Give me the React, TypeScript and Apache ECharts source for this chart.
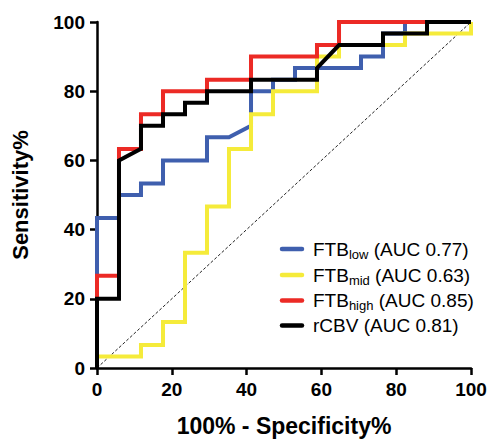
import React, { useEffect, useRef } from "react";
import * as echarts from "echarts";

// ---- data ----
const tickValues = [0, 20, 40, 60, 80, 100];
const seriesNames = ["FTB low", "FTB mid", "FTB high", "rCBV"];
const legendMain = ["FTB", "FTB", "FTB", "rCBV"];
const legendSub = ["low", "mid", "high", ""];
const aucLabels = ["(AUC 0.77)", "(AUC 0.63)", "(AUC 0.85)", "(AUC 0.81)"];
const colors = ["#3f5fae", "#f5eb3a", "#ec2a25", "#000000"];

const ftbLowX = [0, 0, 5.88, 5.88, 11.76, 11.76, 17.65, 17.65, 29.41, 29.41, 35.29, 41.18, 41.18, 47.06, 47.06, 52.94, 52.94, 70.59, 70.59, 76.47, 76.47, 82.35, 82.35, 100];
const ftbLowY = [0, 43.33, 43.33, 50, 50, 53.33, 53.33, 60, 60, 66.67, 66.67, 70, 80, 80, 83.33, 83.33, 86.67, 86.67, 90, 90, 96.67, 96.67, 100, 100];

const ftbMidX = [0, 0, 11.76, 11.76, 17.65, 17.65, 23.53, 23.53, 29.41, 29.41, 35.29, 35.29, 41.18, 41.18, 47.06, 47.06, 58.82, 58.82, 64.71, 64.71, 82.35, 82.35, 100, 100];
const ftbMidY = [0, 3.33, 3.33, 6.67, 6.67, 13.33, 13.33, 33.33, 33.33, 46.67, 46.67, 63.33, 63.33, 73.33, 73.33, 80, 80, 90, 90, 93.33, 93.33, 96.67, 96.67, 100];

const ftbHighX = [0, 0, 5.88, 5.88, 11.76, 11.76, 17.65, 17.65, 29.41, 29.41, 41.18, 41.18, 58.82, 58.82, 64.71, 64.71, 100];
const ftbHighY = [0, 26.67, 26.67, 63.33, 63.33, 73.33, 73.33, 80, 80, 83.33, 83.33, 90, 90, 93.33, 93.33, 100, 100];

const rcbvX = [0, 0, 5.88, 5.88, 11.76, 11.76, 17.65, 17.65, 23.53, 23.53, 29.41, 29.41, 41.18, 41.18, 58.82, 58.82, 64.71, 76.47, 76.47, 88.24, 88.24, 100];
const rcbvY = [0, 20, 20, 60, 63.33, 70, 70, 73.33, 73.33, 76.67, 76.67, 80, 80, 83.33, 83.33, 86.67, 93.33, 93.33, 96.67, 96.67, 100, 100];

const chanceX = [0, 100];
const chanceY = [0, 100];

const FONT = '"Liberation Sans", Arial, Helvetica, sans-serif';

function zip(xs: number[], ys: number[]) {
  return xs.map((x, i) => [x, ys[i]]);
}

function measure(text: string, size: number, weight = "normal") {
  const c = document.createElement("canvas").getContext("2d");
  if (!c) return text.length * size * 0.55;
  c.font = `${weight} ${size}px "Liberation Sans", Arial, sans-serif`;
  return c.measureText(text).width;
}

export default function App() {
  const ref = useRef<HTMLDivElement>(null);

  useEffect(() => {
    if (!ref.current) return;
    const chart = echarts.init(ref.current, undefined, { renderer: "svg" });

    const curves = [
      zip(ftbLowX, ftbLowY),
      zip(ftbMidX, ftbMidY),
      zip(ftbHighX, ftbHighY),
      zip(rcbvX, rcbvY),
    ];

    // legend drawn as graphic elements (subscript text)
    const rowY = [249, 275, 300.5, 325.5];
    const mainSize = 19;
    const subSize = 13;
    const textX = 313;
    const legendEls: any[] = [];
    seriesNames.forEach((_, i) => {
      const cy = rowY[i];
      legendEls.push({
        type: "line",
        shape: { x1: 282, y1: cy, x2: 302, y2: cy },
        style: { stroke: colors[i], lineWidth: 4.5, lineCap: "round" },
      });
      let x = textX;
      legendEls.push({
        type: "text",
        x,
        y: cy,
        style: { text: legendMain[i], fontSize: mainSize, fontFamily: FONT, fill: "#000", align: "left", verticalAlign: "middle" },
      });
      x += measure(legendMain[i], mainSize);
      if (legendSub[i]) {
        legendEls.push({
          type: "text",
          x,
          y: cy + 5,
          style: { text: legendSub[i], fontSize: subSize, fontFamily: FONT, fill: "#000", align: "left", verticalAlign: "middle" },
        });
        x += measure(legendSub[i], subSize);
      }
      x += measure(" ", mainSize);
      legendEls.push({
        type: "text",
        x,
        y: cy,
        style: { text: aucLabels[i], fontSize: mainSize, fontFamily: FONT, fill: "#000", align: "left", verticalAlign: "middle" },
      });
    });

    const axisCommon = {
      type: "value",
      min: tickValues[0],
      max: tickValues[tickValues.length - 1],
      interval: tickValues[1] - tickValues[0],
      nameLocation: "middle",
      axisLine: { show: true, onZero: false, lineStyle: { color: "#000", width: 2.5 } },
      axisTick: { show: true, length: 7, lineStyle: { color: "#000", width: 2.5 } },
      splitLine: { show: false },
      axisLabel: { fontSize: 19, fontWeight: "bold", color: "#000", fontFamily: FONT, margin: 12 },
    };

    chart.setOption({
      animation: false,
      grid: { left: 97, right: 20, top: 22, bottom: 73, containLabel: false },
      xAxis: {
        ...axisCommon,
        name: "100% - Specificity%",
        nameGap: 46,
        nameTextStyle: { fontSize: 23, fontWeight: "bold", color: "#000", fontFamily: FONT },
      },
      yAxis: {
        ...axisCommon,
        name: "Sensitivity%",
        nameGap: 66,
        nameTextStyle: { fontSize: 22, fontWeight: "bold", color: "#000", fontFamily: FONT },
      },
      series: [
        {
          name: "chance",
          type: "line",
          data: zip(chanceX, chanceY),
          symbol: "none",
          silent: true,
          lineStyle: { color: "#222", width: 1, type: [3, 2] },
          z: 1,
        },
        ...curves.map((d, i) => ({
          name: seriesNames[i],
          type: "line",
          data: d,
          symbol: "none",
          showSymbol: false,
          clip: false,
          lineStyle: { color: colors[i], width: 4, join: "miter", cap: "butt" },
          z: 3 + i,
        })),
      ],
      graphic: legendEls,
    });

    return () => chart.dispose();
  }, []);

  return (
    <div
      ref={ref}
      style={{ position: "fixed", left: 0, top: 0, width: 491, height: 442, background: "#fff" }}
    />
  );
}
